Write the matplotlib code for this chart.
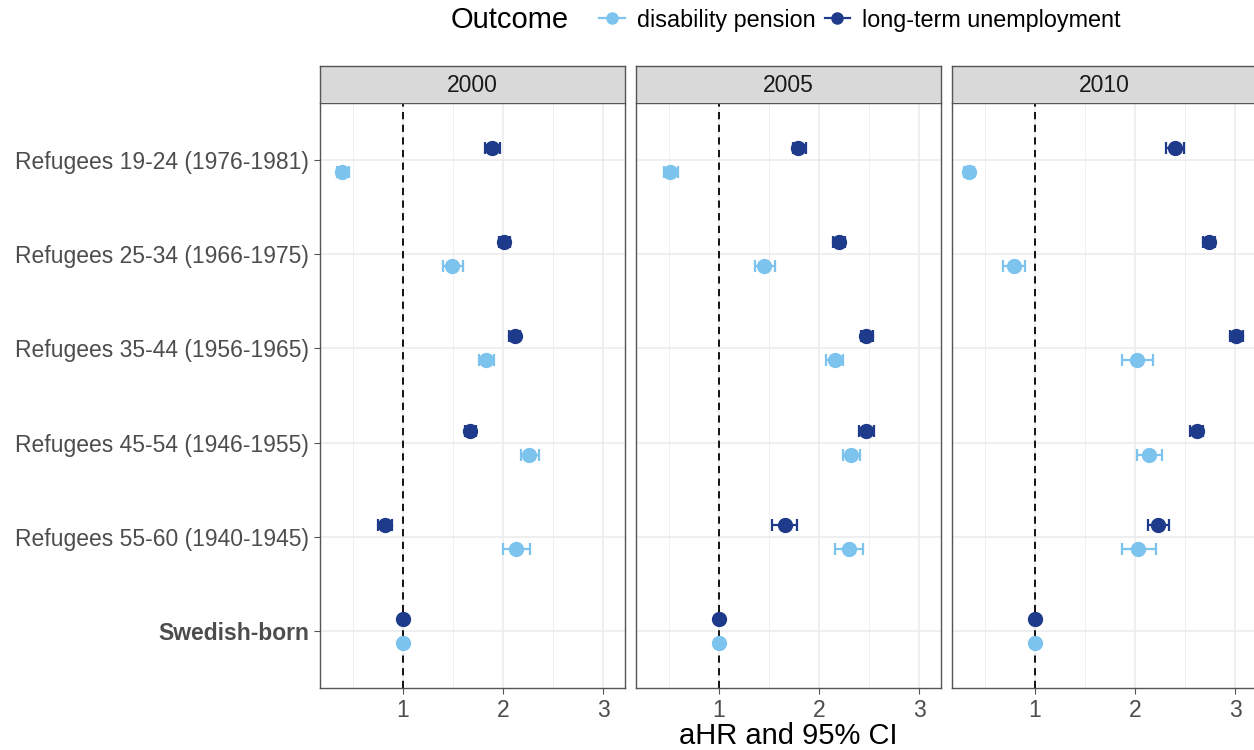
import matplotlib.pyplot as plt
from matplotlib.lines import Line2D
from matplotlib.ticker import MultipleLocator

plt.rcParams['font.family'] = ['Liberation Sans', 'DejaVu Sans']

years = ["2000", "2005", "2010"]
groups = ["Refugees 19-24 (1976-1981)", "Refugees 25-34 (1966-1975)",
          "Refugees 35-44 (1956-1965)", "Refugees 45-54 (1946-1955)",
          "Refugees 55-60 (1940-1945)", "Swedish-born"]

# long-term unemployment: estimate, lower, upper (per year, per group)
ltu_est = [[1.89, 2.01, 2.12, 1.67, 0.82, 1.0],
           [1.79, 2.20, 2.47, 2.47, 1.66, 1.0],
           [2.40, 2.74, 3.01, 2.62, 2.23, 1.0]]
ltu_lo = [[1.82, 1.96, 2.06, 1.62, 0.75, 1.0],
          [1.74, 2.14, 2.42, 2.40, 1.53, 1.0],
          [2.31, 2.68, 2.95, 2.55, 2.13, 1.0]]
ltu_hi = [[1.97, 2.07, 2.17, 1.73, 0.89, 1.0],
          [1.87, 2.26, 2.54, 2.55, 1.78, 1.0],
          [2.49, 2.80, 3.08, 2.68, 2.34, 1.0]]

# disability pension
dp_est = [[0.39, 1.49, 1.83, 2.26, 2.13, 1.0],
          [0.51, 1.45, 2.16, 2.32, 2.30, 1.0],
          [0.34, 0.79, 2.02, 2.14, 2.03, 1.0]]
dp_lo = [[0.34, 1.40, 1.76, 2.18, 2.00, 1.0],
         [0.45, 1.36, 2.07, 2.24, 2.16, 1.0],
         [0.29, 0.68, 1.87, 2.02, 1.87, 1.0]]
dp_hi = [[0.46, 1.60, 1.91, 2.36, 2.27, 1.0],
         [0.59, 1.56, 2.24, 2.41, 2.44, 1.0],
         [0.39, 0.90, 2.18, 2.27, 2.21, 1.0]]

light = '#7CC3EE'
dark = '#1E3A8A'
W, H = 1254, 750

fig = plt.figure(figsize=(W / 100, H / 100), dpi=100)

ypos = [6 - i for i in range(len(groups))]
offset = 0.127

panel_left = [320, 636, 952]
panel_w = 305
top, bottom = 103, 688
strip_top = 66

for k, year in enumerate(years):
    ax = fig.add_axes([panel_left[k] / W, 1 - bottom / H,
                       panel_w / W, (bottom - top) / H])
    ax.set_xlim(0.17, 3.22)
    ax.set_ylim(0.4, 6.6)
    ax.xaxis.set_major_locator(MultipleLocator(1))
    ax.xaxis.set_minor_locator(MultipleLocator(0.5))
    ax.set_yticks(ypos)
    ax.grid(which='major', color='#EBEBEB', lw=1.1, zorder=0)
    ax.grid(which='minor', axis='x', color='#F0F0F0', lw=0.7, zorder=0)
    ax.axvline(1, color='black', ls=(0, (4, 3)), lw=1.3, zorder=2)

    for est, lo, hi, col, dy in [(dp_est, dp_lo, dp_hi, light, -offset),
                                 (ltu_est, ltu_lo, ltu_hi, dark, offset)]:
        e = est[k]
        xerr = [[e[i] - lo[k][i] for i in range(len(e))],
                [hi[k][i] - e[i] for i in range(len(e))]]
        ys = [y + dy for y in ypos]
        ax.errorbar(e, ys, xerr=xerr, fmt='o', color=col, ms=10,
                    elinewidth=1.6, capsize=4.5, capthick=1.6, zorder=3)

    for s in ax.spines.values():
        s.set_color('#555555')
        s.set_linewidth(1.0)
    ax.tick_params(axis='x', which='major', length=4, color='#555555',
                   labelsize=16.5, labelcolor='#4D4D4D', pad=4)
    ax.tick_params(axis='x', which='minor', length=0)
    if k == 0:
        ax.set_yticklabels(groups)
        ax.tick_params(axis='y', length=4, color='#555555', labelsize=16.5,
                       labelcolor='#4D4D4D', pad=4)
        ax.get_yticklabels()[-1].set_fontweight('bold')
    else:
        ax.tick_params(axis='y', length=0, labelleft=False)

    # facet strip
    sax = fig.add_axes([panel_left[k] / W, 1 - (top - 1) / H,
                        panel_w / W, (top - 1 - strip_top) / H])
    sax.set_facecolor('#D9D9D9')
    sax.set_xticks([])
    sax.set_yticks([])
    for s in sax.spines.values():
        s.set_color('#555555')
        s.set_linewidth(1.0)
    sax.spines['bottom'].set_visible(False)
    sax.text(0.5, 0.47, year, ha='center', va='center', fontsize=16.5,
             color='#1A1A1A', transform=sax.transAxes)

fig.text(788 / W, 1 - 736 / H, "aHR and 95% CI", ha='center', va='center',
         fontsize=21, color='black')

fig.text(510 / W, 1 - 20 / H, "Outcome", ha='center', va='center',
         fontsize=21, color='black')
handles = [Line2D([0], [0], color=light, marker='o', ms=8, lw=1.6),
           Line2D([0], [0], color=dark, marker='o', ms=8, lw=1.6)]
fig.legend(handles, ["disability pension", "long-term unemployment"],
           loc='center left', bbox_to_anchor=(590 / W, 1 - 20 / H),
           ncol=2, frameon=False, fontsize=16.8, handlelength=1.1,
           handletextpad=0.5, columnspacing=0.4, borderaxespad=0)

fig.savefig("out.png", dpi=100)
